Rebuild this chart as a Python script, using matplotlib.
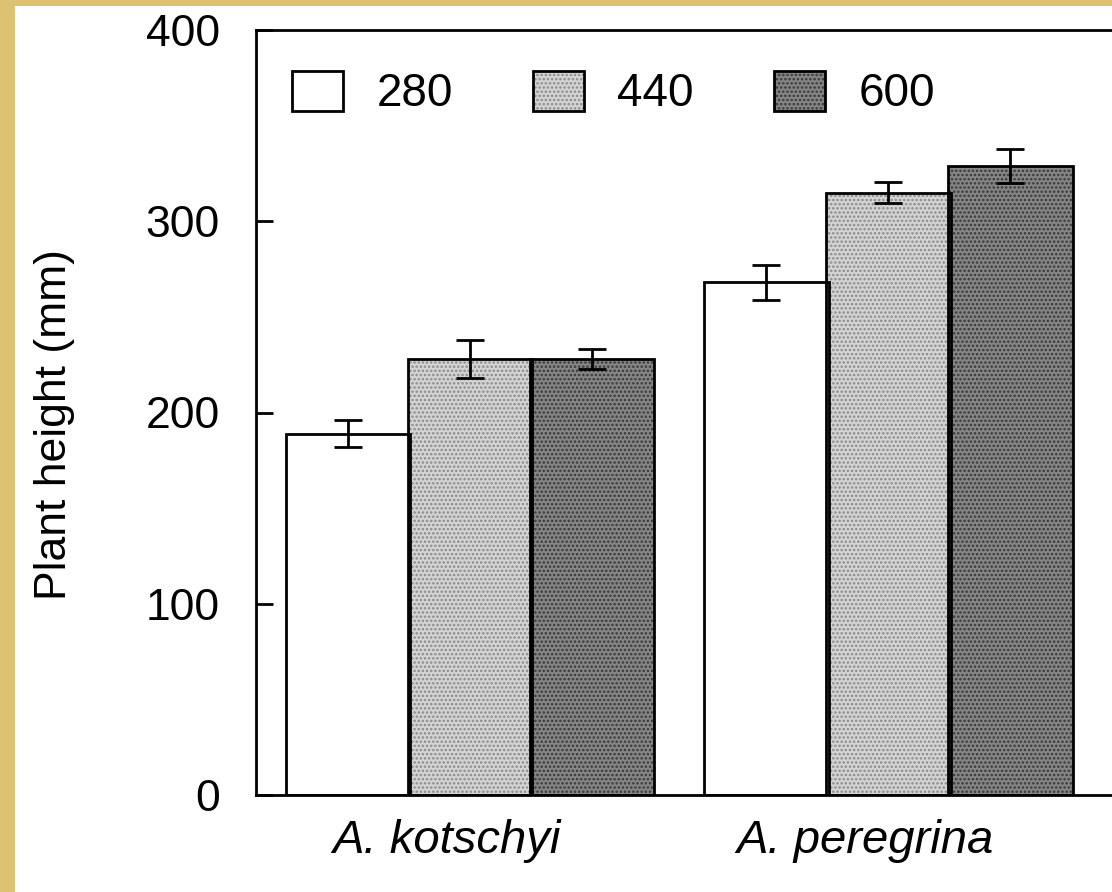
import numpy as np
import matplotlib
matplotlib.use("Agg")
import matplotlib.pyplot as plt
from matplotlib.patches import Rectangle

# ---------------- data ----------------
groups = ['A. kotschyi', 'A. peregrina']
treatments = ['280', '440', '600']

height_280 = [189, 268]
height_440 = [228, 315]
height_600 = [228, 329]

err_280 = [7, 9]
err_440 = [10, 5.5]
err_600 = [5, 9]

heights = [height_280, height_440, height_600]
errors = [err_280, err_440, err_600]

# fill / dot colour for each treatment
face_colors = ['white', '#d4d4d4', '#858585']
dot_colors = ['white', '#8a8a8a', '#383838']
hatches = [None, '....', '....']

# ---------------- figure ----------------
plt.rcParams['font.family'] = ['Liberation Sans', 'DejaVu Sans']
plt.rcParams['hatch.linewidth'] = 1.2

fig = plt.figure(figsize=(11.12, 8.92), dpi=100)
fig.patch.set_facecolor('white')

# gold frame strips on the left and top
fig.patches.append(Rectangle((0, 0), 15 / 1112, 1, transform=fig.transFigure,
                             facecolor='#dcc271', edgecolor='none', zorder=0))
fig.patches.append(Rectangle((0, 1 - 6 / 892), 1, 6 / 892, transform=fig.transFigure,
                             facecolor='#dcc271', edgecolor='none', zorder=0))

ax = fig.add_axes([256 / 1112, 97 / 892, 1 - 256 / 1112, 765 / 892])

group_x = np.arange(len(groups)) * 3.43
width = 1.02

handles = []
for j, name in enumerate(treatments):
    xs = group_x + j
    fill = ax.bar(xs, heights[j], width, color=face_colors[j],
                  edgecolor=dot_colors[j], hatch=hatches[j], linewidth=0, zorder=2)
    outline = ax.bar(xs, heights[j], width, fill=False,
                     edgecolor='black', linewidth=2, zorder=3)
    ax.errorbar(xs, heights[j], yerr=errors[j], fmt='none', ecolor='black',
                elinewidth=2, capsize=10, capthick=2, zorder=4)
    handles.append((fill[0], outline[0]))

# ---------------- axes ----------------
ax.set_xlim(-0.754, 6.262)
ax.set_ylim(0, 400)
ax.set_yticks([0, 100, 200, 300, 400])
ax.set_xticks(group_x + 0.81)
ax.set_xticklabels(groups, fontstyle='italic')

ax.tick_params(axis='y', direction='in', length=12, width=2, pad=26, labelsize=32)
ax.tick_params(axis='x', length=0, pad=17, labelsize=34)

for side in ['left', 'top', 'bottom']:
    ax.spines[side].set_linewidth(2)
ax.spines['right'].set_visible(False)

ax.set_ylabel('Plant height (mm)', fontsize=32)
ax.yaxis.set_label_coords(-0.211, 0.484)

ax.legend(handles, treatments, loc='center left', bbox_to_anchor=(0.042, 0.917),
          ncol=3, frameon=False, fontsize=33, borderpad=0, borderaxespad=0,
          handlelength=1.12, handleheight=0.98, handletextpad=0.72,
          columnspacing=1.75)

fig.savefig('out.png', dpi=100)
